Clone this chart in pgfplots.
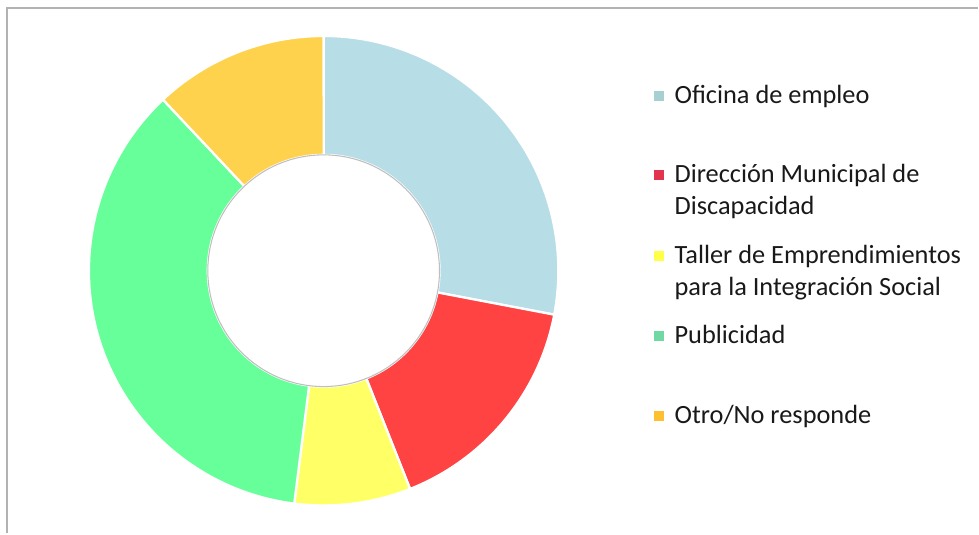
\documentclass[border=0pt]{standalone}
\usepackage{pgfplots}
\usepackage{pgfplotstable}
\pgfplotsset{compat=1.18}
\usepackage{fontspec}
\setmainfont{Carlito}
\definecolor{ofi}{RGB}{183,221,230}
\definecolor{dir}{RGB}{255,66,66}
\definecolor{tal}{RGB}{255,255,102}
\definecolor{pub}{RGB}{102,255,153}
\definecolor{otr}{RGB}{255,210,77}
\definecolor{lofi}{RGB}{168,208,210}
\definecolor{ldir}{RGB}{226,52,78}
\definecolor{ltal}{RGB}{255,255,70}
\definecolor{lpub}{RGB}{112,216,160}
\definecolor{lotr}{RGB}{255,192,48}
\pgfplotstableread{
label value col
Oficina 28 ofi
Direccion 16 dir
Taller 8 tal
Publicidad 36 pub
Otro 12 otr
}\piedata
\begin{document}
\begin{tikzpicture}
\begin{axis}[x=0.02cm,y=0.02cm,xmin=0,xmax=979,ymin=0,ymax=534,
  hide axis, clip=false, scale only axis]
\fill[white] (0,0) rectangle (979,534);
\draw[black!30, line width=1.2pt] (7,0) -- (7,526) -- (979,526);
\def\cx{324}\def\cy{263}\def\Ro{235}\def\Ri{116}
\gdef\acc{0}
\foreach \i in {0,...,4}{
  \pgfplotstablegetelem{\i}{value}\of\piedata
  \edef\v{\pgfplotsretval}
  \pgfplotstablegetelem{\i}{col}\of\piedata
  \edef\c{\pgfplotsretval}
  \pgfmathsetmacro\s{90-3.6*\acc}
  \pgfmathsetmacro\e{90-3.6*(\acc+\v)}
  \pgfmathsetmacro\sxo{\cx+\Ro*cos(\s)}
  \pgfmathsetmacro\syo{\cy+\Ro*sin(\s)}
  \pgfmathsetmacro\exi{\cx+\Ri*cos(\e)}
  \pgfmathsetmacro\eyi{\cy+\Ri*sin(\e)}
  \edef\tmp{\noexpand\fill[\c,draw=white,line width=1.3pt] (\sxo,\syo) arc[start angle=\s,end angle=\e,radius=4.7cm] -- (\exi,\eyi) arc[start angle=\e,end angle=\s,radius=2.32cm] -- cycle;}
  \tmp
  \pgfmathparse{\acc+\v}\xdef\acc{\pgfmathresult}
}
\draw[black!25, line width=0.6pt] (\cx,\cy) circle[radius=2.32cm];
% legend
\tikzset{lt/.style={anchor=base west, inner sep=0pt, text=black!90, font=\fontsize{15}{18}\selectfont}}
\fill[lofi] (655,438-5) rectangle (665,438+5);
\node[lt] at (675,430) {Oficina de empleo};
\fill[ldir] (655,359-5) rectangle (665,359+5);
\node[lt] at (675,351) {Dirección Municipal de};
\node[lt] at (675,319) {Discapacidad};
\fill[ltal] (655,278-5) rectangle (665,278+5);
\node[lt] at (675,270) {Taller de Emprendimientos};
\node[lt] at (675,238) {para la Integración Social};
\fill[lpub] (655,198-5) rectangle (665,198+5);
\node[lt] at (675,190) {Publicidad};
\fill[lotr] (655,118-5) rectangle (665,118+5);
\node[lt] at (675,110) {Otro/No responde};
\end{axis}
\end{tikzpicture}
\end{document}
